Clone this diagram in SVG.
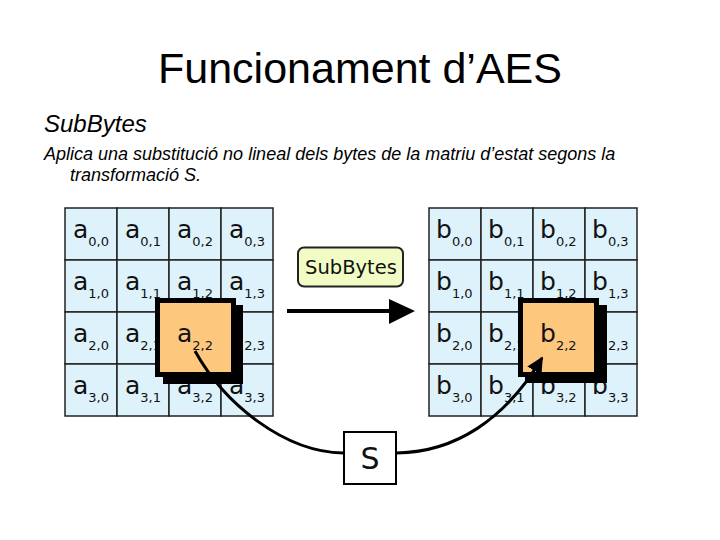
<svg xmlns="http://www.w3.org/2000/svg" width="720" height="540" viewBox="0 0 720 540">
<defs>
<style>
.t{font-family:"Liberation Sans",Arial,sans-serif;fill:#000}
.it{font-style:italic}
.cell{fill:#def2fb;stroke:#222;stroke-width:1.5}
.v{font-family:"DejaVu Sans",Verdana,sans-serif;font-size:25px;fill:#111}
.s{font-size:13px}
.hl{fill:#fdc87e;stroke:#000;stroke-width:5}
.sh{fill:#000}
.ln{fill:none;stroke:#000;stroke-width:3}
</style>
<marker id="ah" viewBox="0 0 10 10" refX="9" refY="5" markerWidth="5.5" markerHeight="5.5" orient="auto" markerUnits="strokeWidth">
<path d="M0,0 L10,5 L0,10 z" fill="#000"/>
</marker>
</defs>
<rect width="720" height="540" fill="#fff"/>
<text class="t" x="360" y="83" style="font-size:43px" text-anchor="middle">Funcionament d’AES</text>
<text class="t it" x="44" y="132" style="font-size:24px">SubBytes</text>
<text class="t it" x="44" y="160" style="font-size:18px">Aplica una substitució no lineal dels bytes de la matriu d’estat segons la</text>
<text class="t it" x="70" y="181" style="font-size:18px">transformació S.</text>

<g id="gridA">
<rect class="cell" x="65" y="208" width="52" height="52"/><rect class="cell" x="117" y="208" width="52" height="52"/><rect class="cell" x="169" y="208" width="52" height="52"/><rect class="cell" x="221" y="208" width="52" height="52"/>
<rect class="cell" x="65" y="260" width="52" height="52"/><rect class="cell" x="117" y="260" width="52" height="52"/><rect class="cell" x="169" y="260" width="52" height="52"/><rect class="cell" x="221" y="260" width="52" height="52"/>
<rect class="cell" x="65" y="312" width="52" height="52"/><rect class="cell" x="117" y="312" width="52" height="52"/><rect class="cell" x="169" y="312" width="52" height="52"/><rect class="cell" x="221" y="312" width="52" height="52"/>
<rect class="cell" x="65" y="364" width="52" height="52"/><rect class="cell" x="117" y="364" width="52" height="52"/><rect class="cell" x="169" y="364" width="52" height="52"/><rect class="cell" x="221" y="364" width="52" height="52"/>
<text class="v" x="73" y="238">a<tspan class="s" dy="8">0,0</tspan></text>
<text class="v" x="125" y="238">a<tspan class="s" dy="8">0,1</tspan></text>
<text class="v" x="177" y="238">a<tspan class="s" dy="8">0,2</tspan></text>
<text class="v" x="229" y="238">a<tspan class="s" dy="8">0,3</tspan></text>
<text class="v" x="73" y="290">a<tspan class="s" dy="8">1,0</tspan></text>
<text class="v" x="125" y="290">a<tspan class="s" dy="8">1,1</tspan></text>
<text class="v" x="177" y="290">a<tspan class="s" dy="8">1,2</tspan></text>
<text class="v" x="229" y="290">a<tspan class="s" dy="8">1,3</tspan></text>
<text class="v" x="73" y="342">a<tspan class="s" dy="8">2,0</tspan></text>
<text class="v" x="125" y="342">a<tspan class="s" dy="8">2,1</tspan></text>
<text class="v" x="229" y="342">a<tspan class="s" dy="8">2,3</tspan></text>
<text class="v" x="73" y="394">a<tspan class="s" dy="8">3,0</tspan></text>
<text class="v" x="125" y="394">a<tspan class="s" dy="8">3,1</tspan></text>
<text class="v" x="177" y="394">a<tspan class="s" dy="8">3,2</tspan></text>
<text class="v" x="229" y="394">a<tspan class="s" dy="8">3,3</tspan></text>
</g>
<g id="a22">
<rect class="sh" x="163" y="305" width="80" height="79"/>
<rect class="hl" x="157.5" y="300.5" width="76" height="74"/>
<text class="v" x="177" y="342">a<tspan class="s" dy="8">2,2</tspan></text>
</g>

<g id="gridB">
<rect class="cell" x="429" y="208" width="52" height="52"/><rect class="cell" x="481" y="208" width="52" height="52"/><rect class="cell" x="533" y="208" width="52" height="52"/><rect class="cell" x="585" y="208" width="52" height="52"/>
<rect class="cell" x="429" y="260" width="52" height="52"/><rect class="cell" x="481" y="260" width="52" height="52"/><rect class="cell" x="533" y="260" width="52" height="52"/><rect class="cell" x="585" y="260" width="52" height="52"/>
<rect class="cell" x="429" y="312" width="52" height="52"/><rect class="cell" x="481" y="312" width="52" height="52"/><rect class="cell" x="533" y="312" width="52" height="52"/><rect class="cell" x="585" y="312" width="52" height="52"/>
<rect class="cell" x="429" y="364" width="52" height="52"/><rect class="cell" x="481" y="364" width="52" height="52"/><rect class="cell" x="533" y="364" width="52" height="52"/><rect class="cell" x="585" y="364" width="52" height="52"/>
<text class="v" x="436" y="238">b<tspan class="s" dy="8">0,0</tspan></text>
<text class="v" x="488" y="238">b<tspan class="s" dy="8">0,1</tspan></text>
<text class="v" x="540" y="238">b<tspan class="s" dy="8">0,2</tspan></text>
<text class="v" x="592" y="238">b<tspan class="s" dy="8">0,3</tspan></text>
<text class="v" x="436" y="290">b<tspan class="s" dy="8">1,0</tspan></text>
<text class="v" x="488" y="290">b<tspan class="s" dy="8">1,1</tspan></text>
<text class="v" x="540" y="290">b<tspan class="s" dy="8">1,2</tspan></text>
<text class="v" x="592" y="290">b<tspan class="s" dy="8">1,3</tspan></text>
<text class="v" x="436" y="342">b<tspan class="s" dy="8">2,0</tspan></text>
<text class="v" x="488" y="342">b<tspan class="s" dy="8">2,1</tspan></text>
<text class="v" x="592" y="342">b<tspan class="s" dy="8">2,3</tspan></text>
<text class="v" x="436" y="394">b<tspan class="s" dy="8">3,0</tspan></text>
<text class="v" x="488" y="394">b<tspan class="s" dy="8">3,1</tspan></text>
<text class="v" x="540" y="394">b<tspan class="s" dy="8">3,2</tspan></text>
<text class="v" x="592" y="394">b<tspan class="s" dy="8">3,3</tspan></text>
</g>
<g id="b22">
<rect class="sh" x="525" y="305" width="82" height="78"/>
<rect class="hl" x="520.5" y="300.5" width="76" height="74"/>
<text class="v" x="540" y="342">b<tspan class="s" dy="8">2,2</tspan></text>
</g>

<g id="subbytes">
<rect x="298" y="247.5" width="105" height="39" rx="6" fill="#f0fcc4" stroke="#222" stroke-width="2"/>
<text class="v" x="351" y="274" style="font-size:19.5px" text-anchor="middle">SubBytes</text>
</g>
<g id="sbox">
<rect x="344" y="432" width="52" height="52" fill="#fff" stroke="#000" stroke-width="2"/>
<text class="v" x="370" y="469" style="font-size:30px" text-anchor="middle">S</text>
</g>

<g id="connectors">
<line x1="287" y1="311" x2="392" y2="311" stroke="#000" stroke-width="4"/>
<path d="M389,299 L415,311 L389,324 z" fill="#000"/>
<path class="ln" d="M195,351 C225,405 285,452 343,453"/>
<path class="ln" d="M397,453 C455,452 505,420 542,358" marker-end="url(#ah)"/>
</g>
</svg>
